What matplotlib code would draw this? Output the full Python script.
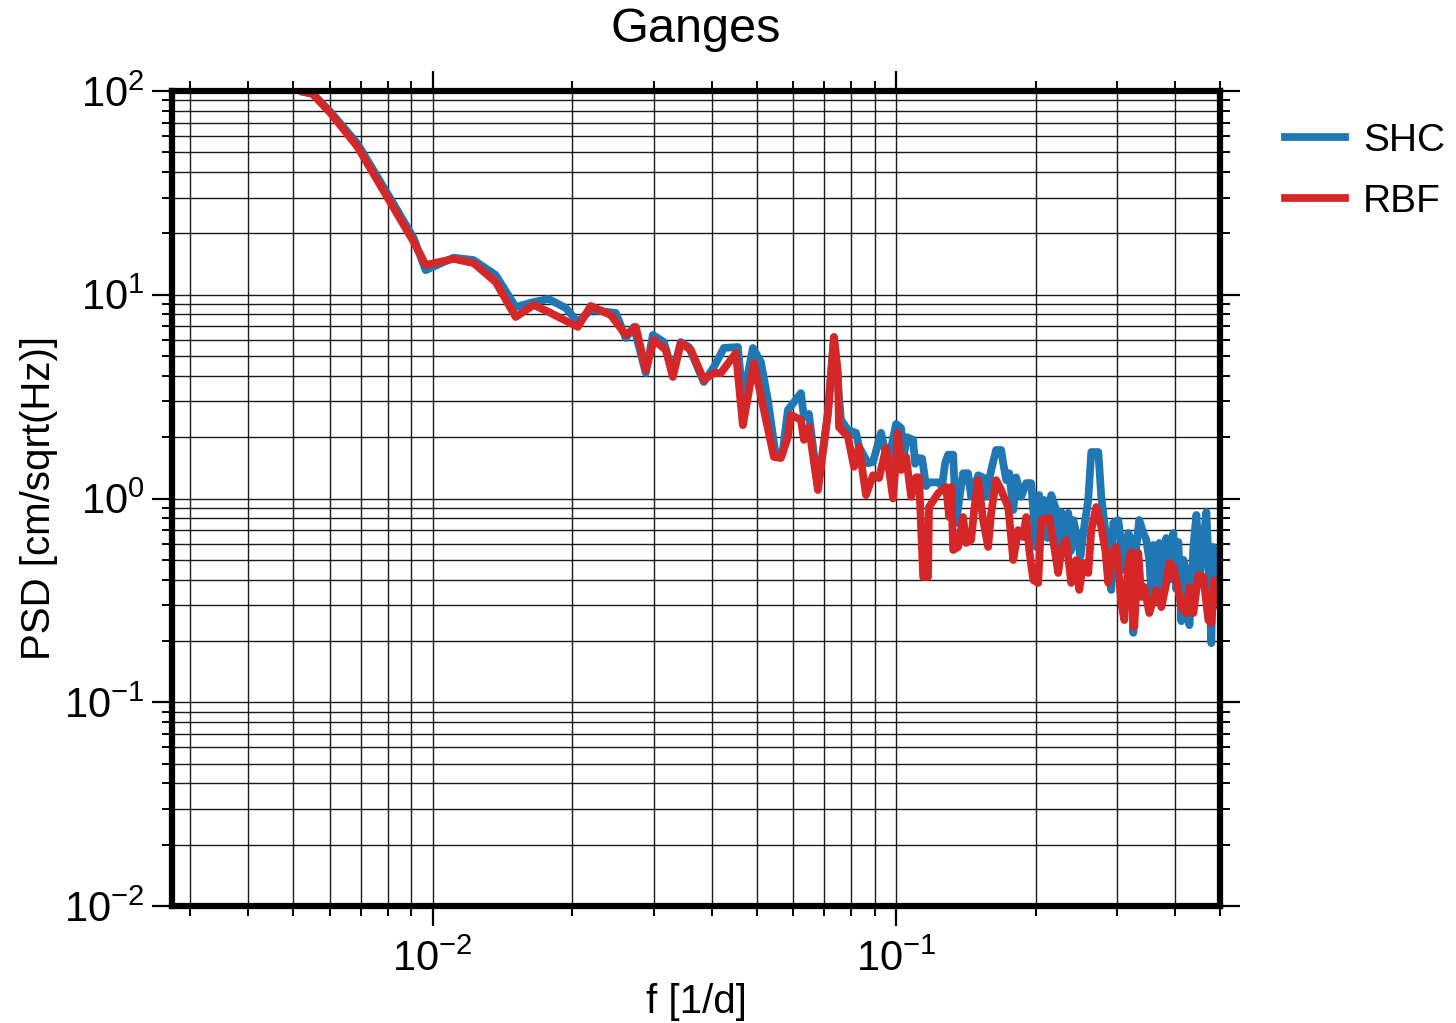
import matplotlib
matplotlib.use('Agg')
import matplotlib.pyplot as plt
from matplotlib.ticker import LogLocator, NullFormatter

plt.rcParams['font.family'] = ['Liberation Sans', 'DejaVu Sans']
plt.rcParams['mathtext.fontset'] = 'custom'
plt.rcParams['mathtext.rm'] = 'Liberation Sans'
plt.rcParams['mathtext.it'] = 'Liberation Sans:italic'
plt.rcParams['mathtext.bf'] = 'Liberation Sans:bold'

# frequencies [1/d] and PSD values
f_shc = [0.00527, 0.00551, 0.00602, 0.00689, 0.00812, 0.0091, 0.00966, 0.0111, 0.01226, 0.01368,
         0.01511, 0.01652, 0.0178, 0.01938, 0.02057, 0.02194, 0.02485, 0.02611, 0.02718, 0.02884,
         0.02987, 0.03155, 0.03299, 0.03432, 0.03572, 0.03848, 0.04045, 0.04251, 0.04557, 0.04672,
         0.0491, 0.05109, 0.0529, 0.05505, 0.057, 0.05843, 0.06234, 0.06328, 0.06487, 0.06784,
         0.0713, 0.07346, 0.07606, 0.07876, 0.08196, 0.0832, 0.087, 0.08919, 0.09281, 0.09609,
         0.1, 0.1025, 0.104, 0.1056, 0.1088, 0.1099, 0.1116, 0.1138, 0.1161, 0.1178,
         0.1232, 0.1257, 0.1276, 0.1295, 0.1328, 0.1348, 0.1368, 0.1395, 0.143, 0.1452,
         0.1474, 0.1504, 0.1549, 0.1564, 0.1604, 0.1644, 0.1686, 0.1703, 0.1729, 0.1755,
         0.179, 0.1816, 0.1862, 0.1909, 0.1957, 0.1977, 0.2006, 0.2036, 0.206, 0.2088,
         0.212, 0.2162, 0.2216, 0.224, 0.2272, 0.23, 0.2353, 0.238, 0.2412, 0.2448,
         0.25, 0.2535, 0.2598, 0.2638, 0.2732, 0.2772, 0.2828, 0.287, 0.2913, 0.2942,
         0.3016, 0.3062, 0.3108, 0.317, 0.3218, 0.325, 0.3299, 0.3348, 0.3416, 0.3467,
         0.3519, 0.356, 0.359, 0.365, 0.3698, 0.376, 0.383, 0.39, 0.3966, 0.402,
         0.4065, 0.4127, 0.4168, 0.4272, 0.4294, 0.4337, 0.438, 0.4446, 0.453, 0.4672,
         0.4719, 0.4789, 0.4837, 0.491, 0.5]
psd_shc = [99, 97, 79, 55, 29.5, 19, 13.2, 15.2, 14.8, 12.5,
           8.71, 9.21, 9.53, 8.61, 7.35, 8.42, 8.14, 6.13, 6.95, 4.13,
           6.35, 5.86, 4.13, 5.86, 5.54, 3.73, 4.42, 5.48, 5.54, 3.04,
           5.48, 4.68, 3.04, 1.6, 1.73, 2.72, 3.29, 2.51, 2.6, 1.14,
           2.63, 6.2, 2.43, 2.17, 2.1, 1.79, 1.49, 1.51, 2.1, 1.49,
           2.32, 2.22, 1.64, 2.0, 1.94, 1.48, 1.58, 1.57, 1.15, 1.2,
           1.2, 1.15, 1.49, 1.64, 1.64, 0.758, 0.983, 1.33, 1.33, 1.02,
           1.13, 1.3, 1.26, 1.02, 1.38, 1.73, 1.73, 1.49, 1.23, 1.33,
           0.878, 1.27, 1.02, 1.19, 1.19, 0.878, 0.578, 1.04, 0.70, 0.983,
           0.64, 1.04, 0.878, 0.60, 0.858, 0.62, 0.849, 0.55, 0.784, 0.677,
           0.52, 0.677, 0.983, 1.69, 1.69, 1.02, 0.7, 0.499, 0.356, 0.758,
           0.784, 0.605, 0.446, 0.677, 0.626, 0.219, 0.578, 0.784, 0.677, 0.626,
           0.499, 0.33, 0.591, 0.34, 0.605, 0.33, 0.64, 0.40, 0.677, 0.36,
           0.612, 0.25, 0.5, 0.385, 0.239, 0.356, 0.578, 0.83, 0.42, 0.858,
           0.516, 0.195, 0.578, 0.516, 0.421]

f_rbf = [0.00527, 0.00551, 0.00602, 0.00689, 0.00812, 0.0091, 0.00966, 0.0111, 0.01226, 0.01368,
         0.01511, 0.01652, 0.0178, 0.02057, 0.02194, 0.02424, 0.02611, 0.02745, 0.02884, 0.03001,
         0.03186, 0.03299, 0.03432, 0.03608, 0.03848, 0.04045, 0.04188, 0.04512, 0.04672, 0.04934,
         0.05186, 0.05451, 0.05644, 0.05843, 0.05931, 0.06234, 0.06328, 0.06487, 0.06784, 0.0713,
         0.07346, 0.07493, 0.07531, 0.07876, 0.08115, 0.0832, 0.08614, 0.08919, 0.0919, 0.09515,
         0.09851, 0.101, 0.1025, 0.1051, 0.1078, 0.1105, 0.1121, 0.1144, 0.1172, 0.1178,
         0.1232, 0.1282, 0.1302, 0.1315, 0.1328, 0.1361, 0.1395, 0.1416, 0.1452, 0.1474,
         0.1504, 0.1541, 0.158, 0.1604, 0.1644, 0.1686, 0.172, 0.1746, 0.179, 0.1834,
         0.188, 0.1909, 0.1938, 0.1977, 0.2026, 0.2057, 0.214, 0.2194, 0.2238, 0.2272,
         0.2329, 0.2388, 0.2448, 0.2485, 0.2535, 0.2598, 0.2638, 0.2704, 0.2772, 0.2828,
         0.287, 0.2913, 0.2987, 0.3062, 0.3108, 0.317, 0.3218, 0.3266, 0.3332, 0.3382,
         0.3432, 0.3519, 0.3644, 0.3736, 0.383, 0.3887, 0.3966, 0.4065, 0.4127, 0.423,
         0.4294, 0.438, 0.449, 0.4603, 0.4719, 0.4789, 0.4861, 0.496, 0.5]
psd_rbf = [99, 96.7, 78, 53.1, 28.2, 18.2, 14.0, 15.0, 14.3, 11.55,
           7.78, 8.91, 8.23, 6.95, 8.81, 7.95, 6.35, 6.95, 4.27, 6.0,
           5.36, 3.95, 5.8, 5.36, 3.82, 4.13, 4.13, 5.18, 2.29, 4.62,
           2.72, 1.6, 1.58, 2.0, 2.57, 2.43, 1.94, 2.24, 1.1, 2.63,
           6.2, 4.13, 2.24, 2.0, 1.43, 1.79, 1.04, 1.3, 1.26, 1.77,
           1.0, 2.1, 1.38, 1.6, 1.02, 1.27, 1.27, 0.412, 0.412, 0.908,
           1.06, 1.14, 0.811, 1.14, 0.559, 0.578, 0.811, 0.605, 0.626, 0.878,
           1.23, 0.784, 0.578, 0.849, 1.23, 1.1, 0.983, 0.908, 0.499, 0.7,
           0.647, 0.811, 0.559, 0.398, 0.385, 0.784, 0.802, 0.578, 0.431, 0.559,
           0.626, 0.385, 0.499, 0.356, 0.483, 0.431, 0.7, 0.908, 0.725, 0.559,
           0.385, 0.516, 0.578, 0.307, 0.253, 0.483, 0.546, 0.234, 0.54, 0.329,
           0.368, 0.274, 0.356, 0.293, 0.385, 0.483, 0.461, 0.356, 0.293, 0.274,
           0.368, 0.274, 0.421, 0.412, 0.253, 0.245, 0.398, 0.307, 0.293]

fig = plt.figure(figsize=(14.56, 10.23), dpi=100)
ax = fig.add_axes([172 / 1456, 1 - 906 / 1023, 1048 / 1456, 815 / 1023])

ax.plot(f_shc, psd_shc, color='#1f77b4', lw=5.6, label='SHC', zorder=3)
ax.plot(f_rbf, psd_rbf, color='#d62728', lw=5.6, label='RBF', zorder=4)

ax.set_xscale('log')
ax.set_yscale('log')
ax.set_xlim(1 / 365, 0.5)
ax.set_ylim(1e-2, 1e2)

ax.xaxis.set_major_locator(LogLocator(base=10, numticks=10))
ax.xaxis.set_minor_locator(LogLocator(base=10, subs=range(2, 10), numticks=50))
ax.yaxis.set_major_locator(LogLocator(base=10, numticks=10))
ax.yaxis.set_minor_locator(LogLocator(base=10, subs=range(2, 10), numticks=50))
ax.xaxis.set_minor_formatter(NullFormatter())
ax.yaxis.set_minor_formatter(NullFormatter())

# GMT style frame
ax.grid(True, which='both', color='0.1', lw=1.0, zorder=1)
for s in ax.spines.values():
    s.set_linewidth(4.5)
    s.set_zorder(5)
ax.tick_params(which='both', direction='out', top=True, right=True, labelsize=30, color='k')
ax.tick_params(which='major', length=14.5, width=1.6, pad=5)
ax.tick_params(which='minor', length=7.5, width=1.4)
ax.tick_params(axis='x', which='major', pad=10)

ax.set_xlabel('f [1/d]', fontsize=29)
ax.set_ylabel('PSD [cm/sqrt(Hz)]', fontsize=29)
ax.xaxis.set_label_coords(0.5, -0.095)
ax.yaxis.set_label_coords(-0.109, 0.5)
fig.text(696 / 1456, 1 - 30 / 1023, 'Ganges', ha='center', va='center', fontsize=35)

ax.legend(loc='upper left', bbox_to_anchor=(1285 / 1456, 1 - 123 / 1023),
          bbox_transform=fig.transFigure, frameon=False, fontsize=28,
          handlelength=1.55, handletextpad=0.45, labelspacing=0.63,
          borderpad=0, borderaxespad=0)

plt.savefig('out.png', dpi=100)
